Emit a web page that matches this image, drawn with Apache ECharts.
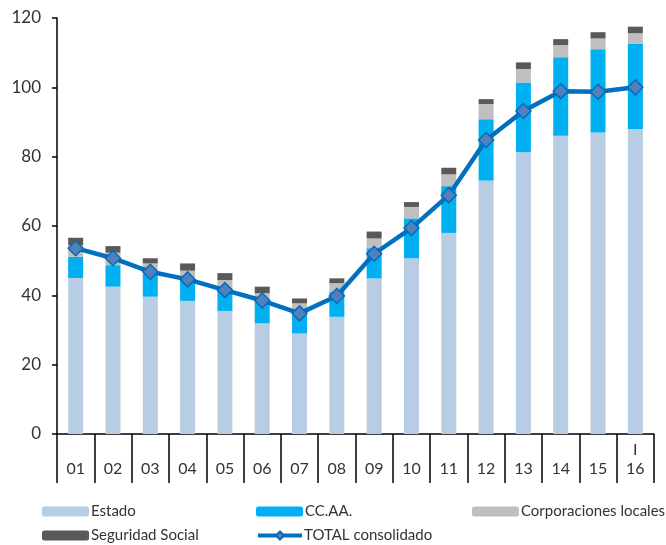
<!DOCTYPE html>
<html>
<head>
<meta charset="utf-8">
<script src="https://cdn.jsdelivr.net/npm/echarts@6/dist/echarts.min.js"></script>
<style>
  html, body { margin: 0; padding: 0; background: #fff; }
  #chart { width: 666px; height: 545px; }
</style>
</head>
<body>
<div id="chart"></div>
<script>
// Deuda de las AA.PP. por subsectores (% PIB) y total consolidado
const years = ['01', '02', '03', '04', '05', '06', '07', '08', '09', '10', '11', '12', '13', '14', '15', '16'];
const quarterMark = ['', '', '', '', '', '', '', '', '', '', '', '', '', '', '', 'I'];
const estado = [45.0, 42.5, 39.6, 38.4, 35.5, 31.9, 29.0, 33.8, 44.9, 50.7, 58.0, 73.1, 81.3, 86.0, 87.0, 88.0];
const ccaa = [6.1, 6.2, 6.6, 6.4, 6.6, 6.6, 7.0, 7.2, 8.7, 11.5, 13.5, 17.7, 20.1, 22.7, 24.0, 24.5];
const corpLocales = [3.4, 3.6, 3.0, 2.3, 2.3, 2.1, 1.7, 2.5, 2.8, 3.3, 3.4, 4.4, 3.9, 3.5, 3.1, 3.1];
const segSocial = [2.1, 1.9, 1.5, 2.1, 2.0, 1.9, 1.4, 1.4, 2.0, 1.4, 1.9, 1.4, 1.9, 1.7, 1.8, 1.9];
const totalConsolidado = [53.6, 50.7, 46.8, 44.6, 41.5, 38.5, 34.8, 39.8, 52.0, 59.4, 68.9, 84.8, 93.2, 98.9, 98.7, 100.0];
const yTicks = [0, 20, 40, 60, 80, 100, 120];

const FONT = 'Lato';
const TXT = '#333333';

const chart = echarts.init(document.getElementById('chart'), null, { renderer: 'canvas' });

function legendAt(name, left, top, isLine) {
  return {
    data: [name],
    left: left,
    top: top,
    padding: 0,
    itemWidth: isLine ? 44 : 47,
    itemHeight: 10,
    selectedMode: false,
    lineStyle: { width: 4 },
    textStyle: { fontFamily: FONT, fontSize: 15, color: TXT, padding: [0, 0, 0, -3] }
  };
}

function barSeries(name, data, color) {
  return {
    name: name,
    type: 'bar',
    stack: 'deuda',
    data: data,
    barWidth: 15,
    itemStyle: { color: color },
    emphasis: { disabled: true }
  };
}

chart.setOption({
  animation: false,
  textStyle: { fontFamily: FONT },
  grid: { left: 57, right: 12, top: 18, bottom: 111, containLabel: false },
  legend: [
    legendAt('Estado', 42, 504),
    legendAt('CC.AA.', 256, 504),
    legendAt('Corporaciones locales', 472, 504),
    legendAt('Seguridad Social', 42, 528),
    legendAt('TOTAL consolidado', 256, 528, true)
  ],
  xAxis: {
    type: 'category',
    data: years,
    boundaryGap: true,
    axisLine: { show: true, lineStyle: { color: '#000', width: 1.5 } },
    axisTick: { show: true, interval: 0, length: 49, inside: false, lineStyle: { color: '#000', width: 1.5 } },
    axisLabel: {
      interval: 0,
      margin: 6,
      fontFamily: FONT,
      fontSize: 16,
      color: TXT,
      lineHeight: 19,
      formatter: function (v, i) { return (quarterMark[i] || ' ') + '\n' + v; }
    }
  },
  yAxis: {
    type: 'value',
    min: yTicks[0],
    max: yTicks[yTicks.length - 1],
    interval: yTicks[1] - yTicks[0],
    axisLine: { show: true, lineStyle: { color: '#000', width: 1.5 } },
    axisTick: { show: true, length: 5, lineStyle: { color: '#000', width: 1.5 } },
    splitLine: { show: false },
    axisLabel: { fontFamily: FONT, fontSize: 17, color: TXT, margin: 16 }
  },
  series: [
    barSeries('Estado', estado, '#b8cce4'),
    barSeries('CC.AA.', ccaa, '#00b0f0'),
    barSeries('Corporaciones locales', corpLocales, '#bfbfbf'),
    barSeries('Seguridad Social', segSocial, '#595959'),
    {
      name: 'TOTAL consolidado',
      type: 'line',
      data: totalConsolidado,
      z: 5,
      symbol: 'diamond',
      symbolSize: 15,
      lineStyle: { color: '#0070c0', width: 4.5 },
      itemStyle: { color: '#4f81bd', borderColor: '#0a6ab8', borderWidth: 1.5 },
      emphasis: { disabled: true }
    }
  ]
});
</script>
</body>
</html>
